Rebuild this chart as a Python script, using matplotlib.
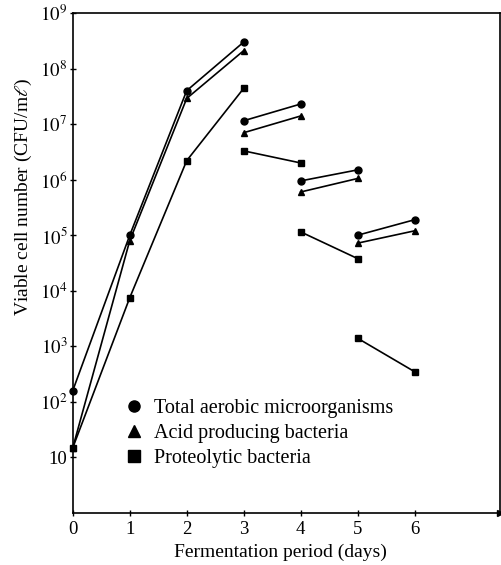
import numpy as np
import matplotlib.pyplot as plt
from matplotlib.lines import Line2D

plt.rcParams['font.family'] = ['Liberation Serif', 'DejaVu Serif']
plt.rcParams['mathtext.fontset'] = 'stix'

# days for the growth phase and for the short paired runs afterwards
early_days = [0, 1, 2, 3]
pair_days = [[3, 4], [4, 5], [5, 6]]

# Total aerobic microorganisms (CFU/ml)
aerobic_early = [160, 1.0e5, 4.0e7, 3.0e8]
aerobic_pairs = [[1.15e7, 2.3e7], [9.5e5, 1.5e6], [1.0e5, 1.9e5]]

# Acid producing bacteria
acid_early = [15, 8.0e4, 2.9e7, 2.1e8]
acid_pairs = [[7.0e6, 1.4e7], [6.0e5, 1.05e6], [7.2e4, 1.2e5]]

# Proteolytic bacteria
prot_early = [15, 7.5e3, 2.2e6, 4.4e7]
prot_pairs = [[3.3e6, 2.0e6], [1.15e5, 3.8e4], [1.4e3, 350]]

labels = ['Total aerobic microorganisms', 'Acid producing bacteria', 'Proteolytic bacteria']
markers = ['o', '^', 's']

ytick_vals = [1e1, 1e2, 1e3, 1e4, 1e5, 1e6, 1e7, 1e8, 1e9]
ytick_labels = ['10'] + ['$10^{%d}$' % k for k in range(2, 10)]
xtick_vals = [0, 1, 2, 3, 4, 5, 6]

fig = plt.figure(figsize=(5.02, 5.65), dpi=100)
ax = fig.add_axes([0.145, 0.092, 0.851, 0.885])

series = [(aerobic_early, aerobic_pairs), (acid_early, acid_pairs), (prot_early, prot_pairs)]
for (early, pairs), m in zip(series, markers):
    ax.plot(early_days, early, color='black', lw=1.2, marker=m, ms=5, clip_on=False)
    for d, v in zip(pair_days, pairs):
        ax.plot(d, v, color='black', lw=1.2, marker=m, ms=5, clip_on=False)

ax.set_yscale('log')
ax.set_ylim(1, 1e9)
ax.set_xlim(0, 7.5)
ax.set_yticks(ytick_vals)
ax.set_yticklabels(ytick_labels)
ax.minorticks_off()
ax.set_xticks(xtick_vals)
ax.tick_params(direction='inout', length=4, width=1, labelsize=13.5)
ax.tick_params(axis='y', pad=2)
for s in ax.spines.values():
    s.set_linewidth(1.2)

ax.set_xlabel('Fermentation period (days)', fontsize=14, x=0.487)
ax.set_ylabel(r'Viable cell number (CFU/m$\ell$)', fontsize=14, y=0.632)

# small arrowhead at the end of the x axis
ax.plot(1, 0, '>k', ms=5, transform=ax.transAxes, clip_on=False)

handles = [Line2D([], [], color='black', marker=m, ls='none', ms=8) for m in markers]
ax.legend(handles, labels, loc='upper left', bbox_to_anchor=(0.095, 0.248),
          frameon=False, fontsize=14.5, handlelength=1.0, handletextpad=0.5,
          labelspacing=0.28, borderpad=0)

plt.savefig('out.png', dpi=100)
